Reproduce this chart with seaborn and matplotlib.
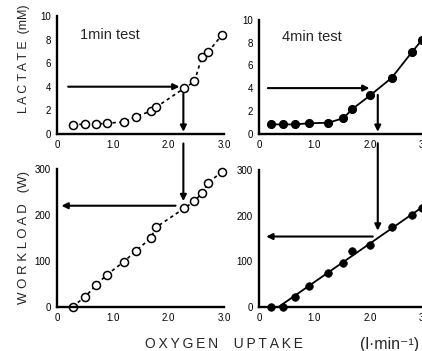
import numpy as np
import pandas as pd
import seaborn as sns
import matplotlib.pyplot as plt
from matplotlib.patches import ConnectionPatch

# ---------------- data ----------------
vo2_1min = [0.28, 0.51, 0.70, 0.89, 1.20, 1.42, 1.68, 1.78, 2.28, 2.47, 2.60, 2.72, 2.96]
lactate_1min = [0.75, 0.80, 0.80, 0.88, 0.98, 1.45, 1.90, 2.25, 3.85, 4.45, 6.50, 7.00, 8.40]
workload_1min = [0, 22, 47, 69, 98, 122, 149, 173, 214, 230, 247, 270, 294]

vo2_4min = [0.21, 0.43, 0.64, 0.90, 1.25, 1.52, 1.68, 2.00, 2.39, 2.76, 2.93]
lactate_4min = [0.80, 0.80, 0.80, 0.90, 0.95, 1.35, 2.15, 3.35, 4.90, 7.20, 8.20]
workload_4min = [0, 0, 21, 45, 75, 97, 122, 135, 174, 201, 216]

x_ticks = [0, 1, 2, 3]
x_ticklabels = ["0", "1.0", "2.0", "3.0"]
lac_ticks = [0, 2, 4, 6, 8, 10]
work_ticks = [0, 100, 200, 300]

# threshold constructions (lactate 4 mM -> VO2 -> workload)
thr_1min = dict(vo2=2.27, lac=4.0, work_hit=230, work_read=220, x_start=0.20, x_end=2.20, x_back=0.08, x_from=2.13)
thr_4min = dict(vo2=2.14, lac=4.0, work_hit=167, work_read=154, x_start=0.16, x_end=1.99, x_back=0.13, x_from=2.05)

df1 = pd.DataFrame({"vo2": vo2_1min, "lac": lactate_1min, "work": workload_1min})
df4 = pd.DataFrame({"vo2": vo2_4min, "lac": lactate_4min, "work": workload_4min})

sns.set_theme(style="white")
plt.rcParams['font.family'] = ['Liberation Sans', 'DejaVu Sans']

W, H = 422, 351
fig = plt.figure(figsize=(W / 100, H / 100), dpi=100)

def frac(left, right, y0, ytop):
    return [left / W, 1 - y0 / H, (right - left) / W, (y0 - ytop) / H]

ax_tl = fig.add_axes(frac(57, 224, 133.5, 16.5))
ax_tr = fig.add_axes(frac(259, 425.5, 133.5, 20))
ax_bl = fig.add_axes(frac(57, 224, 306.7, 169))
ax_br = fig.add_axes(frac(259, 425.5, 306.7, 170))

for ax, yt in [(ax_tl, lac_ticks), (ax_tr, lac_ticks), (ax_bl, work_ticks), (ax_br, work_ticks)]:
    ax.set_xlim(0, 3.0)
    ax.set_ylim(yt[0], yt[-1])
    ax.set_xticks(x_ticks)
    ax.set_xticklabels(x_ticklabels)
    ax.set_yticks(yt)
    ax.set_yticklabels([str(v) for v in yt])
    for s in ["top", "right"]:
        ax.spines[s].set_visible(False)
    for s in ["left", "bottom"]:
        ax.spines[s].set_linewidth(1.7)
        ax.spines[s].set_color("black")
    ax.tick_params(direction="in", length=3.5, width=1.4, labelsize=7, pad=4.5, colors="black")
    ax.patch.set_alpha(0)

# ---- 1 min test (open circles, dotted) ----
open_kw = dict(color="black", lw=1.2, linestyle=(0, (2, 2)), marker="o", markersize=5.8,
               markerfacecolor="white", markeredgecolor="black", markeredgewidth=1.1, clip_on=False)
sns.lineplot(data=df1, x="vo2", y="lac", ax=ax_tl, sort=False, **open_kw)
sns.lineplot(data=df1, x="vo2", y="work", ax=ax_bl, sort=False, **open_kw)

# ---- 4 min test (filled circles, solid) ----
sns.lineplot(data=df4, x="vo2", y="lac", ax=ax_tr, sort=False, color="black", lw=1.3,
             marker="o", markersize=5.8, markerfacecolor="black", markeredgecolor="black", clip_on=False)
sns.regplot(data=df4[df4["work"] > 0], x="vo2", y="work", ax=ax_br, ci=None, scatter=False,
            truncate=False, color="black", line_kws=dict(lw=1.3))
sns.scatterplot(data=df4, x="vo2", y="work", ax=ax_br, s=30, color="black", edgecolor="black",
                linewidth=0.5, clip_on=False, zorder=3)

for ax in [ax_tl, ax_tr, ax_bl, ax_br]:
    ax.set_xlabel("")
    ax.set_ylabel("")

# ---- arrows ----
arrow_kw = dict(arrowstyle="-|>", lw=1.5, color="black", mutation_scale=9, shrinkA=0, shrinkB=0)

def construction(ax_top, ax_bot, t):
    ax_top.annotate("", xy=(t["x_end"], t["lac"]), xytext=(t["x_start"], t["lac"]),
                    arrowprops=arrow_kw, annotation_clip=False)
    ax_top.annotate("", xy=(t["vo2"], 0.15), xytext=(t["vo2"], t["lac"] - 0.6),
                    arrowprops=arrow_kw, annotation_clip=False)
    cp = ConnectionPatch(xyA=(t["vo2"], -0.85), coordsA=ax_top.transData,
                         xyB=(t["vo2"], t["work_hit"]), coordsB=ax_bot.transData, **arrow_kw)
    fig.add_artist(cp)
    ax_bot.annotate("", xy=(t["x_back"], t["work_read"]), xytext=(t["x_from"], t["work_read"]),
                    arrowprops=arrow_kw, annotation_clip=False)

construction(ax_tl, ax_bl, thr_1min)
construction(ax_tr, ax_br, thr_4min)

# ---- texts ----
ax_tl.text(0.41, 8.45, "1min test", fontsize=10.5, va="center", ha="left")
ax_tr.text(0.41, 8.5, "4min test", fontsize=10.5, va="center", ha="left")

ts = "\u2009"
fig.text(24 / W, 1 - 59 / H, "L A C T A T E  (mM)", rotation=90, ha="center", va="center", fontsize=9)
fig.text(24 / W, 1 - 238 / H, "W O R K L O A D   (W)", rotation=90, ha="center", va="center", fontsize=9.5)
fig.text(224 / W, 1 - 344 / H, ts.join("OXYGEN") + "    " + ts.join("UPTAKE"),
         ha="center", va="center", fontsize=10)
fig.text(390 / W, 1 - 344 / H, "(l·min⁻¹)", ha="center", va="center", fontsize=11.5)

fig.savefig("out.png", dpi=100, facecolor="white")
